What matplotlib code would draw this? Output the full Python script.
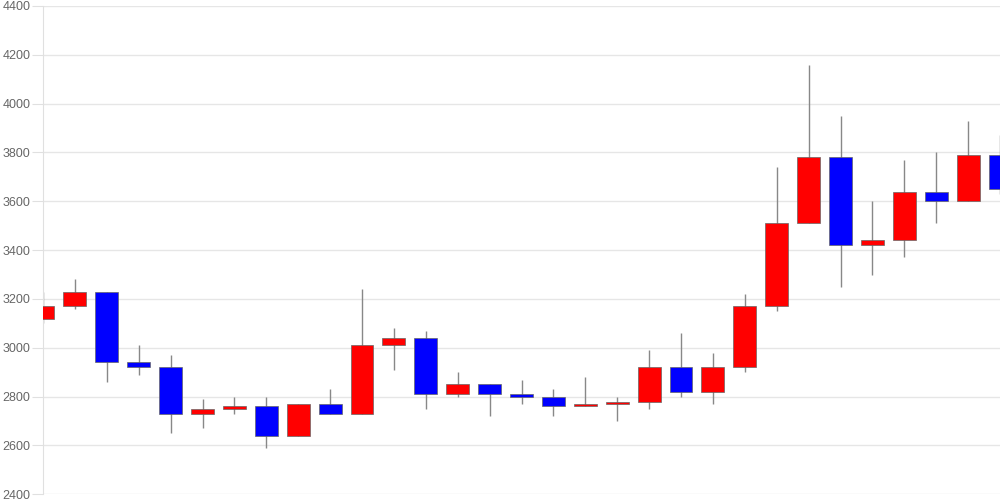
import matplotlib
matplotlib.use('Agg')
import matplotlib.pyplot as plt
import numpy as np

plt.rcParams['font.family'] = ['Liberation Sans', 'DejaVu Sans']

# daily OHLC
opens = [3120, 3170, 3230, 2940, 2920, 2730, 2750, 2760, 2640, 2770,
         2730, 3010, 3040, 2810, 2850, 2810, 2800, 2760, 2770, 2780,
         2920, 2820, 2920, 3170, 3510, 3780, 3420, 3440, 3640, 3600, 3790]
closes = [3170, 3230, 2940, 2920, 2730, 2750, 2760, 2640, 2770, 2730,
          3010, 3040, 2810, 2850, 2810, 2800, 2760, 2770, 2780, 2920,
          2820, 2920, 3170, 3510, 3780, 3420, 3440, 3640, 3600, 3790, 3650]
highs = [3230, 3280, 3230, 3010, 2970, 2790, 2800, 2800, 2770, 2830,
         3240, 3080, 3070, 2900, 2850, 2870, 2830, 2880, 2800, 2990,
         3060, 2980, 3220, 3740, 4160, 3950, 3600, 3770, 3800, 3930, 3870]
lows = [3100, 3160, 2860, 2890, 2650, 2670, 2730, 2590, 2640, 2730,
        2730, 2910, 2750, 2800, 2720, 2770, 2720, 2760, 2700, 2750,
        2800, 2770, 2900, 3150, 3510, 3250, 3300, 3370, 3510, 3600, 3630]

UP = '#FF0000'
DOWN = '#0000FF'

fig = plt.figure(figsize=(10, 5), dpi=100)
ax = fig.add_axes([0.043, 0.0114, 0.957, 0.9766])

x = np.arange(len(opens))
o = np.array(opens)
c = np.array(closes)
colors = [UP if cc >= oo else DOWN for oo, cc in zip(o, c)]

ax.vlines(x, lows, highs, color='#888888', linewidth=1.0, zorder=2)
ax.bar(x, np.abs(c - o), bottom=np.minimum(o, c), width=0.72,
       color=colors, edgecolor='#666666', linewidth=0.5, zorder=3)

ax.set_xlim(0, 30)
ax.set_ylim(2400, 4400)
ax.set_yticks(np.arange(2400, 4401, 200))
ax.set_xticks([])
ax.grid(axis='y', color='#e6e6e6', linewidth=1.0, zorder=0)
ax.set_axisbelow(True)

for side in ['top', 'right', 'bottom']:
    ax.spines[side].set_visible(False)
ax.spines['left'].set_color('#e0e0e0')
ax.tick_params(axis='y', length=8, color='#e0e0e0', labelcolor='#666666',
               labelsize=9, pad=1)

fig.savefig('out.png', dpi=100)
